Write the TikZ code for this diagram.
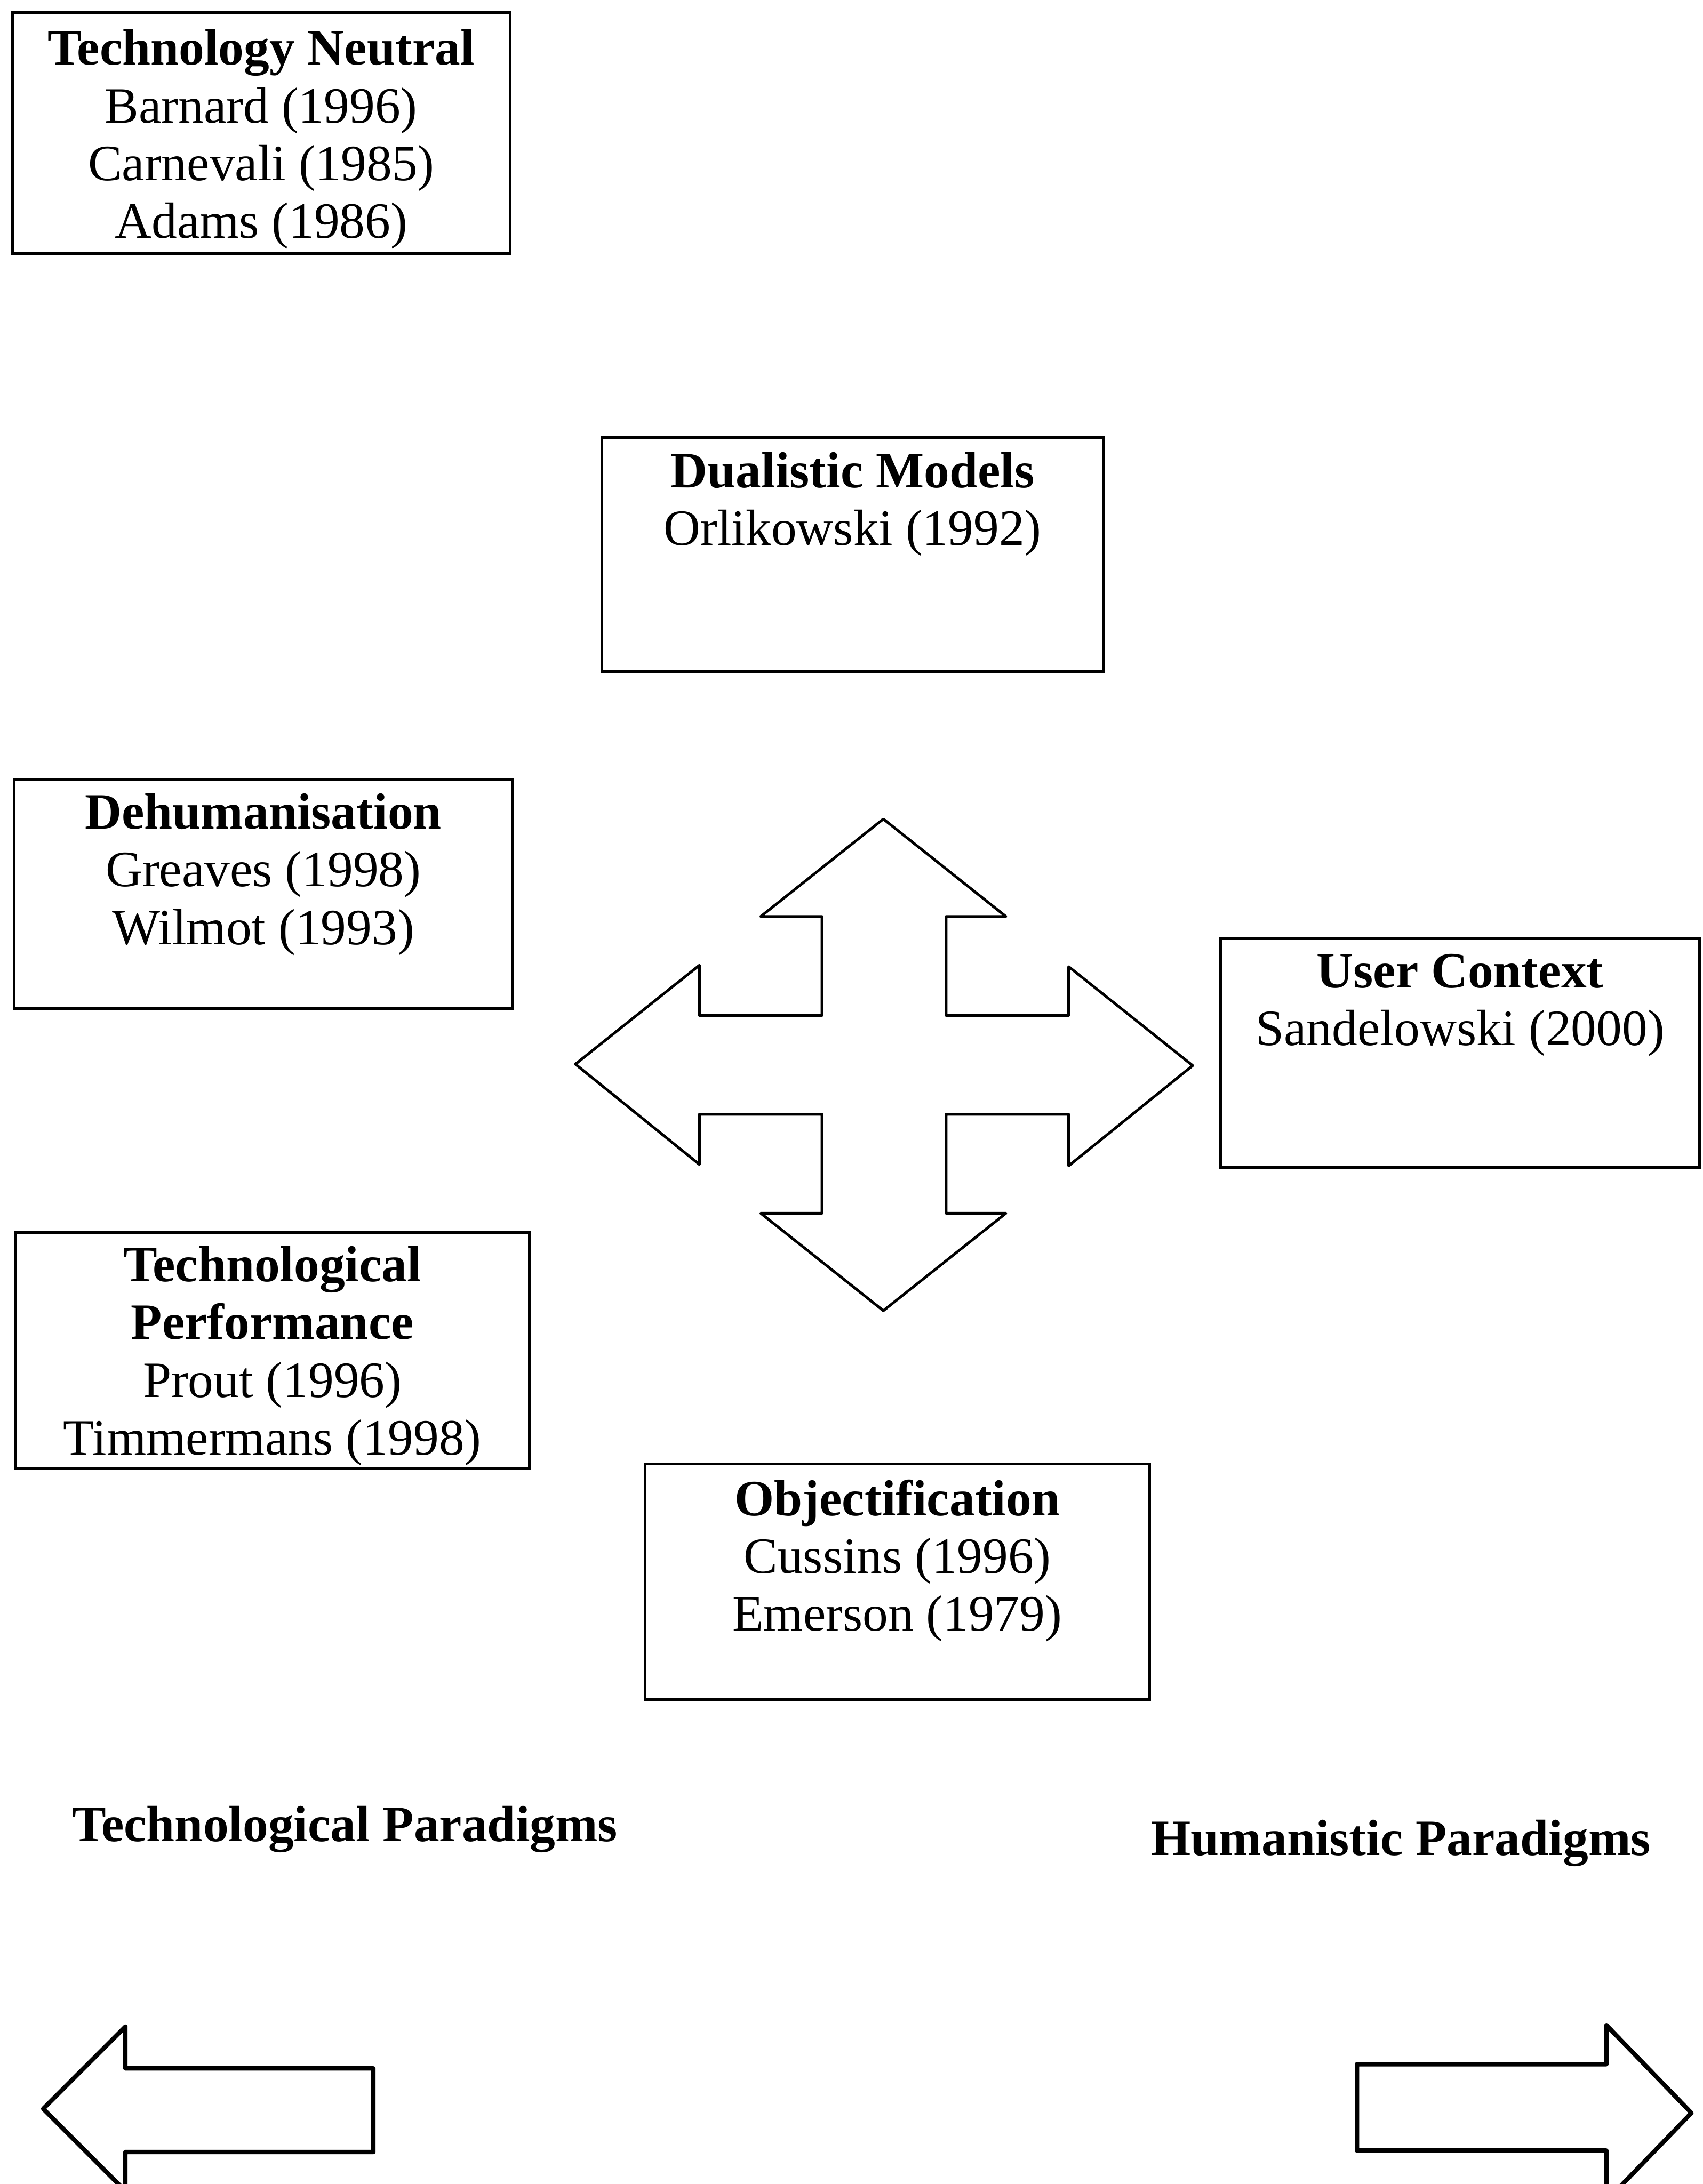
\documentclass[tikz,border=0pt]{standalone}
\usepackage{fontspec}
\setmainfont{Liberation Serif}
\usetikzlibrary{fit}

\begin{document}
\begin{tikzpicture}[x=0.02cm, y=-0.02cm,
    box/.style={draw, line width=1.1pt, inner sep=0pt},
    names/.style={align=center, anchor=base, font=\fontsize{20.8}{23.6}\selectfont},
    paradigm/.style={anchor=base, font=\fontsize{20.8}{23.6}\selectfont\bfseries},
    bigarrow/.style={draw, line width=1.1pt, line join=round},
    sidearrow/.style={draw, line width=1.8pt, line join=round}]
  \useasboundingbox (0,0) rectangle (1222,1568);
  \clip (0,0) rectangle (1222,1568);

  % boxes
  \node[box, fit={(9,9) (366,182)}] (neutral) {};
  \node[box, fit={(432,314) (792,482)}] (dualistic) {};
  \node[box, fit={(10,560) (368,724)}] (dehuman) {};
  \node[box, fit={(876,674) (1220,838)}] (context) {};
  \node[box, fit={(11,885) (380,1054)}] (performance) {};
  \node[box, fit={(463,1051) (825,1220)}] (objectification) {};

  % texts (base = baseline of the last line)
  \node[names] (neutraltext) at (187.5,171) {\textbf{Technology Neutral}\\Barnard (1996)\\Carnevali (1985)\\Adams (1986)};
  \node[names] (dualistictext) at (612,391.5) {\textbf{Dualistic Models}\\Orlikowski (1992)};
  \node[names] (dehumantext) at (189,678) {\textbf{Dehumanisation}\\Greaves (1998)\\Wilmot (1993)};
  \node[names] (contexttext) at (1048,750.5) {\textbf{User Context}\\Sandelowski (2000)};
  \node[names] (performancetext) at (195.5,1044.5) {\textbf{Technological}\\\textbf{Performance}\\Prout (1996)\\Timmermans (1998)};
  \node[names] (objectificationtext) at (644,1171) {\textbf{Objectification}\\Cussins (1996)\\Emerson (1979)};

  \node[paradigm] (technological) at (247.5,1322) {Technological Paradigms};
  \node[paradigm] (humanistic) at (1005.5,1332) {Humanistic Paradigms};

  % four-way arrow
  \draw[bigarrow] (634,588) -- (722,658) -- (679,658) -- (679,729) -- (767,729)
    -- (767,694) -- (856,765) -- (767,837) -- (767,800) -- (679,800) -- (679,871)
    -- (722,871) -- (634,941) -- (546,871) -- (590,871) -- (590,800) -- (502,800)
    -- (502,836) -- (413,764) -- (502,693) -- (502,729) -- (590,729) -- (590,658)
    -- (546,658) -- cycle;

  % arrows at the foot
  \draw[sidearrow] (31,1514) -- (90,1455) -- (90,1485) -- (268,1485) -- (268,1545)
    -- (90,1545) -- (90,1573) -- cycle;
  \draw[sidearrow] (1214,1517) -- (1153,1454) -- (1153,1482) -- (974,1482) -- (974,1544)
    -- (1153,1544) -- (1153,1580) -- cycle;
\end{tikzpicture}
\end{document}
